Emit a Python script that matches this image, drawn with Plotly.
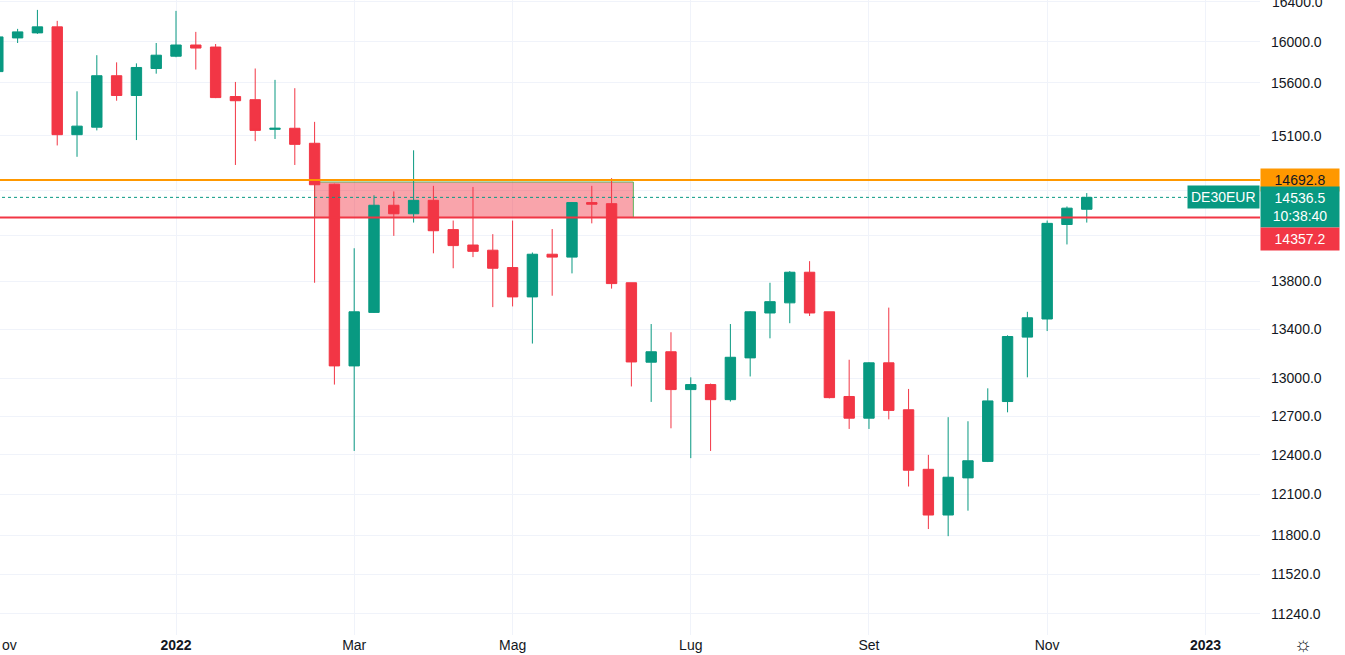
import numpy as np
import plotly.graph_objects as go

# weekly bars, index 0 = week of 3 Jan 2022
bar_idx = list(range(-9, 47))
opens = [15710, 16040, 16090, 16150, 15110, 15180, 15670, 15480, 15740,
         15860, 15970, 15950, 15470, 15440, 15160, 15170, 15030, 14655, 13100,
         13540, 14466, 14390, 14510, 14250, 14115, 14070, 13920, 13670, 14035,
         14010, 14490, 14480, 13790, 13130, 13215, 12910, 12950, 12830, 13165,
         13535, 13620, 13880, 13545, 12855, 12684, 13125, 12750, 12290, 11948,
         12225, 12350, 12815, 13335, 13485, 14295, 14430]
highs = [16060, 16130, 16320, 16210, 15520, 15870, 15800, 15790, 15990,
         16310, 16100, 15980, 15610, 15740, 15630, 15550, 15230, 14660, 14087,
         14555, 14590, 14965, 14640, 14330, 14630, 14210, 14330, 14050, 14255,
         14495, 14640, 14710, 13790, 13443, 13375, 13008, 12958, 13443, 13550,
         13790, 13890, 13975, 13545, 13150, 13130, 13580, 12915, 12400, 12692,
         12660, 12920, 13350, 13545, 14330, 14455, 14575]
lows = [15700, 15990, 16080, 15010, 14905, 15150, 15430, 15060, 15690,
        15850, 15730, 15455, 14830, 15050, 15070, 14830, 13790, 12950, 12430,
        13535, 14195, 14312, 14043, 13914, 14010, 13584, 13590, 13282, 13680,
        13870, 14305, 13740, 12935, 12812, 12605, 12375, 12430, 12815, 13015,
        13325, 13450, 13510, 12840, 12600, 12600, 12675, 12160, 11845, 11793,
        11980, 12345, 12730, 13008, 13385, 14120, 14312]
closes = [16050, 16100, 16150, 15110, 15190, 15670, 15480, 15750, 15870,
          15970, 15940, 15460, 15430, 15150, 15170, 15020, 14650, 13100, 13545,
          14466, 14390, 14510, 14240, 14110, 14060, 13914, 13670, 14035, 14010,
          14490, 14475, 13783, 13132, 13215, 12910, 12950, 12830, 13170, 13545,
          13630, 13880, 13535, 12846, 12684, 13125, 12745, 12283, 11948, 12230,
          12355, 12820, 13340, 13495, 14305, 14440, 14536.5]

level_high = 14692.8
level_low = 14357.2
last_price = 14536.5
zone_top = 14675
zone_bottom = 14357
zone_start, zone_end = 7, 23.1

y_ticks = [16400, 16000, 15600, 15100, 14600, 14200, 13800, 13400, 13000,
           12700, 12400, 12100, 11800, 11520, 11240]
x_ticks = [0, 9, 17, 26, 35, 44, 52]
x_labels = ["<b>2022</b>", "Mar", "Mag", "Lug", "Set", "Nov", "<b>2023</b>"]

UP = "#089981"
DOWN = "#F23645"
x_range = [-8.89, 54.75]
y_range = [np.log10(11095), np.log10(16420)]

fig = go.Figure()

# horizontal levels
fig.add_trace(go.Scatter(x=[-20, 70], y=[level_high] * 2, mode="lines",
                         line=dict(color="#FF9800", width=2), hoverinfo="skip"))
fig.add_trace(go.Scatter(x=[-20, 70], y=[level_low] * 2, mode="lines",
                         line=dict(color=DOWN, width=2), hoverinfo="skip"))
fig.add_trace(go.Scatter(x=[-20, 70], y=[last_price] * 2, mode="lines",
                         line=dict(color=UP, width=1, dash="dot"), hoverinfo="skip"))

fig.add_trace(go.Candlestick(
    x=bar_idx, open=opens, high=highs, low=lows, close=closes,
    increasing=dict(line=dict(color=UP, width=1), fillcolor=UP),
    decreasing=dict(line=dict(color=DOWN, width=1), fillcolor=DOWN),
    whiskerwidth=0, hoverinfo="skip"))

# highlighted zone behind the candles
fig.add_shape(type="rect", xref="x", yref="y", layer="between",
              x0=zone_start, x1=zone_end, y0=zone_bottom, y1=zone_top,
              fillcolor="rgba(242,54,69,0.45)",
              line=dict(color="rgba(76,175,80,0.9)", width=1))

fig.update_layout(
    width=1345, height=655,
    margin=dict(l=0, r=85, t=0, b=20, autoexpand=False),
    paper_bgcolor="white", plot_bgcolor="white",
    showlegend=False, boxgap=0.25,
    font=dict(family="Liberation Sans", size=14, color="#131722"),
    xaxis=dict(range=x_range, tickvals=x_ticks, ticktext=x_labels,
               showgrid=True, gridcolor="#f0f3fa", zeroline=False,
               rangeslider=dict(visible=False), ticks="", fixedrange=True,
               showline=False, automargin=False),
    yaxis=dict(type="log", range=y_range, side="right", tickvals=y_ticks,
               ticktext=[f"{v:.1f}" for v in y_ticks], showgrid=True,
               gridcolor="#f0f3fa", zeroline=False, ticks="",
               ticklabelstandoff=10, automargin=False),
)

ann = dict(xref="paper", x=1.0, xanchor="left", showarrow=False,
           font=dict(size=14), borderpad=3, width=72, align="center")
fig.add_annotation(**ann, yref="y", y=np.log10(level_high),
                   text="14692.8", bgcolor="#FF9800",
                   font_color="#131722")
fig.add_annotation(**ann, yref="y", y=np.log10(last_price), yanchor="top",
                   yshift=11, text="14536.5<br>10:38:40", bgcolor=UP,
                   font_color="white")
fig.add_annotation(**ann, yref="y", y=np.log10(14170),
                   text="14357.2", bgcolor=DOWN, font_color="white")
fig.add_annotation(xref="paper", x=1.0, xanchor="right", yref="y",
                   y=np.log10(last_price), showarrow=False, text="DE30EUR",
                   bgcolor=UP, font=dict(size=14, color="white"), borderpad=3)
# top tick label that plotly drops at the edge
fig.add_annotation(xref="paper", x=1.0, xshift=10, xanchor="left",
                   yref="y", y=np.log10(y_ticks[0]), showarrow=False,
                   text=f"{y_ticks[0]:.1f}", font=dict(size=14))
fig.add_annotation(xref="paper", x=0, xanchor="left", yref="paper", y=0,
                   yshift=-10, yanchor="middle", showarrow=False, text="ov",
                   font=dict(size=14))
fig.add_annotation(xref="paper", x=1.0, xshift=43, xanchor="center",
                   yref="paper", y=0, yshift=-9, yanchor="middle",
                   showarrow=False, text="☼", font=dict(size=20, color="#131722"))

fig.write_html("out.html", config={"displayModeBar": False},
               post_script="document.body.style.margin='0';")
